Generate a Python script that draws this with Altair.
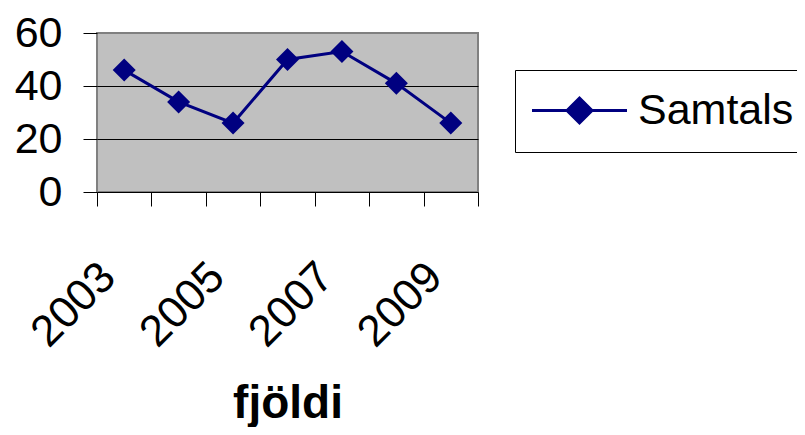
import altair as alt
import pandas as pd

years = ["2003", "2004", "2005", "2006", "2007", "2008", "2009"]
values = [46, 34, 26, 50, 53, 41, 26]
series = ["Samtals"] * len(years)
y_ticks = [0, 20, 40, 60]

df = pd.DataFrame({"year": years, "value": values, "series": series})

navy = "#000080"
font = "Liberation Sans"
legend_shape = "M -3.8 0 L 3.8 0 M -1 0 L 0 -1 L 1 0 L 0 1 Z"

x = alt.X(
    "year:N",
    scale=alt.Scale(paddingInner=0, paddingOuter=0),
    axis=alt.Axis(
        title="fjöldi",
        labelAngle=-45,
        labelAlign="right",
        labelBaseline="middle",
        labelExpr="toNumber(datum.value) % 2 == 1 ? datum.label : ''",
        labelOverlap=False,
        tickBand="extent",
        tickSize=14,
        tickColor="black",
        domainColor="black",
        labelFontSize=44,
        labelFont=font,
        labelColor="black",
        labelPadding=64,
        labelOffset=-16,
        titleFontSize=46,
        titleFont=font,
        titleFontWeight="bold",
        titleColor="black",
        titlePadding=27,
    ),
)

y = alt.Y(
    "value:Q",
    scale=alt.Scale(domain=[0, 60], nice=False),
    axis=alt.Axis(
        title=None,
        values=y_ticks,
        grid=True,
        gridColor=alt.condition("datum.value == 0 || datum.value == 60", alt.value("#808080"), alt.value("black")),
        gridWidth=1,
        tickSize=14,
        tickColor="black",
        domain=False,
        labelFontSize=43,
        labelFont=font,
        labelColor="black",
        labelPadding=21,
    ),
)

color = alt.Color(
    "series:N",
    scale=alt.Scale(domain=["Samtals"], range=[navy]),
    legend=alt.Legend(
        title=None,
        orient="none",
        legendX=418,
        legendY=37,
        padding=19,
        strokeColor="black",
        fillColor="white",
        labelFontSize=43,
        labelFont=font,
        labelColor="black",
        symbolType=legend_shape,
        symbolSize=625,
        symbolStrokeWidth=3,
        symbolFillColor=navy,
        symbolStrokeColor=navy,
        symbolOffset=24,
        labelOffset=37,
    ),
)

chart = (
    alt.Chart(df)
    .mark_line(
        strokeWidth=3,
        point=alt.OverlayMarkDef(shape="diamond", size=530, filled=True, color=navy, opacity=1),
    )
    .encode(x=x, y=y, color=color)
    .properties(
        width=381,
        height=159,
        background="white",
        autosize=alt.AutoSizeParams(type="none"),
        padding={"left": 89, "top": 25, "right": 319, "bottom": 235},
    )
    .configure_view(fill="#C0C0C0", stroke="#808080", strokeWidth=2)
)

chart.save("out.html", embed_options={"renderer": "svg", "actions": False})
